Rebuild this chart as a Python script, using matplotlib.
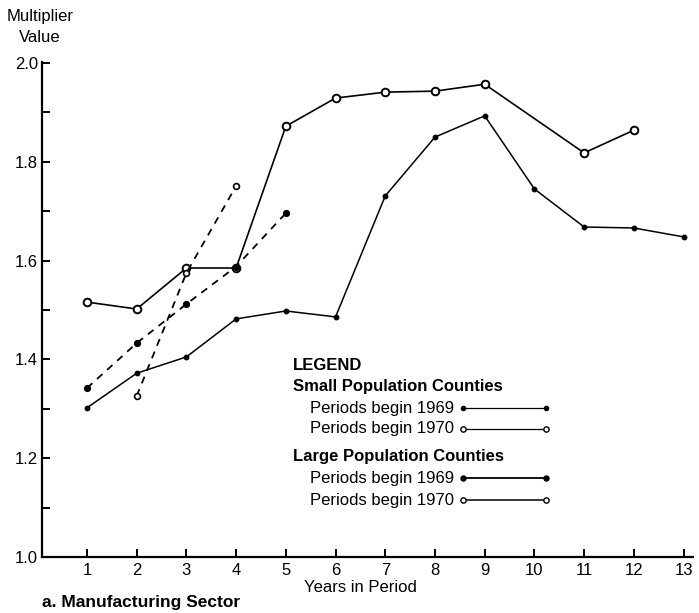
import matplotlib
matplotlib.use("Agg")
import matplotlib.pyplot as plt
from matplotlib.lines import Line2D

plt.rcParams['font.family'] = ['Liberation Sans', 'DejaVu Sans']

# values
small_69_x = [1, 2, 3, 4, 5]
small_69_y = [1.342, 1.433, 1.512, 1.588, 1.696]

small_70_x = [2, 3, 4]
small_70_y = [1.326, 1.575, 1.751]

large_69_x = [1, 2, 3, 4, 5, 6, 7, 8, 9, 10, 11, 12, 13]
large_69_y = [1.302, 1.372, 1.405, 1.482, 1.498, 1.486, 1.731, 1.850,
              1.893, 1.745, 1.668, 1.666, 1.648]

large_70_x = [1, 2, 3, 4, 5, 6, 7, 8, 9, 11, 12]
large_70_y = [1.516, 1.502, 1.585, 1.585, 1.872, 1.929, 1.941, 1.943,
              1.957, 1.818, 1.864]

x_ticks = list(range(1, 14))
y_ticks = [1.0, 1.2, 1.4, 1.6, 1.8, 2.0]
y_minor = [1.1, 1.3, 1.5, 1.7, 1.9]

W, H = 699, 613
fig = plt.figure(figsize=(W / 100, H / 100), dpi=100)
ax = fig.add_axes([42 / W, 1 - 557 / H, (693 - 42) / W, (557 - 62) / H])

# large population counties (solid)
ax.plot(large_69_x, large_69_y, color='black', lw=1.1, marker='o',
        markersize=3.2, markerfacecolor='black')
ax.plot(large_70_x, large_70_y, color='black', lw=1.2, marker='o',
        markersize=5.5, markerfacecolor='white', markeredgewidth=1.4)

# small population counties (dashed)
ax.plot(small_69_x, small_69_y, color='black', lw=1.3, ls=(0, (4, 3.5)),
        marker='o', markersize=4.2, markerfacecolor='black')
ax.plot(small_70_x, small_70_y, color='black', lw=1.3, ls=(0, (4, 3.5)),
        marker='o', markersize=4.2, markerfacecolor='white',
        markeredgewidth=1.2)

ax.set_xlim(0.095, 13.19)
ax.set_ylim(1.0, 2.002)
ax.set_xticks(x_ticks)
ax.set_xticklabels([str(v) for v in x_ticks])
ax.set_yticks(y_ticks)
ax.set_yticklabels(['%.1f' % v for v in y_ticks])
ax.set_yticks(y_minor, minor=True)

for s in ['top', 'right']:
    ax.spines[s].set_visible(False)
for s in ['left', 'bottom']:
    ax.spines[s].set_linewidth(1.6)

ax.tick_params(axis='both', which='both', direction='in', length=6,
               width=1.4, labelsize=12, pad=4)
ax.tick_params(axis='y', which='major', pad=3)

# axis titles
fig.text(40 / W, 1 - 16 / H, 'Multiplier', ha='center', va='center', fontsize=12)
fig.text(40 / W, 1 - 37 / H, 'Value', ha='center', va='center', fontsize=12)
fig.text(360 / W, 1 - 588 / H, 'Years in Period', ha='center', va='center',
         fontsize=12)
fig.text(42 / W, 1 - 603 / H, 'a. Manufacturing Sector', ha='left',
         va='center', fontsize=12.5, fontweight='bold')

# hand-made legend
fig.text(293 / W, 1 - 365 / H, 'LEGEND', ha='left', va='center',
         fontsize=12, fontweight='bold')
fig.text(293 / W, 1 - 387 / H, 'Small Population Counties', ha='left',
         va='center', fontsize=12, fontweight='bold')
fig.text(293 / W, 1 - 457 / H, 'Large Population Counties', ha='left',
         va='center', fontsize=12, fontweight='bold')

entries = [
    (408, 'Periods begin 1969', 'black', 3.0, 0.9),
    (429, 'Periods begin 1970', 'white', 3.8, 0.9),
    (478, 'Periods begin 1969', 'black', 3.6, 1.3),
    (500, 'Periods begin 1970', 'white', 3.8, 1.1),
]
for ypix, label, face, msize, lw in entries:
    fig.text(310 / W, 1 - ypix / H, label, ha='left', va='center', fontsize=12)
    fig.add_artist(Line2D([463 / W, 546 / W], [1 - ypix / H, 1 - ypix / H],
                          color='black', lw=lw, marker='o', markersize=msize,
                          markerfacecolor=face, markeredgewidth=1.0))

fig.savefig('out.png', dpi=100)
